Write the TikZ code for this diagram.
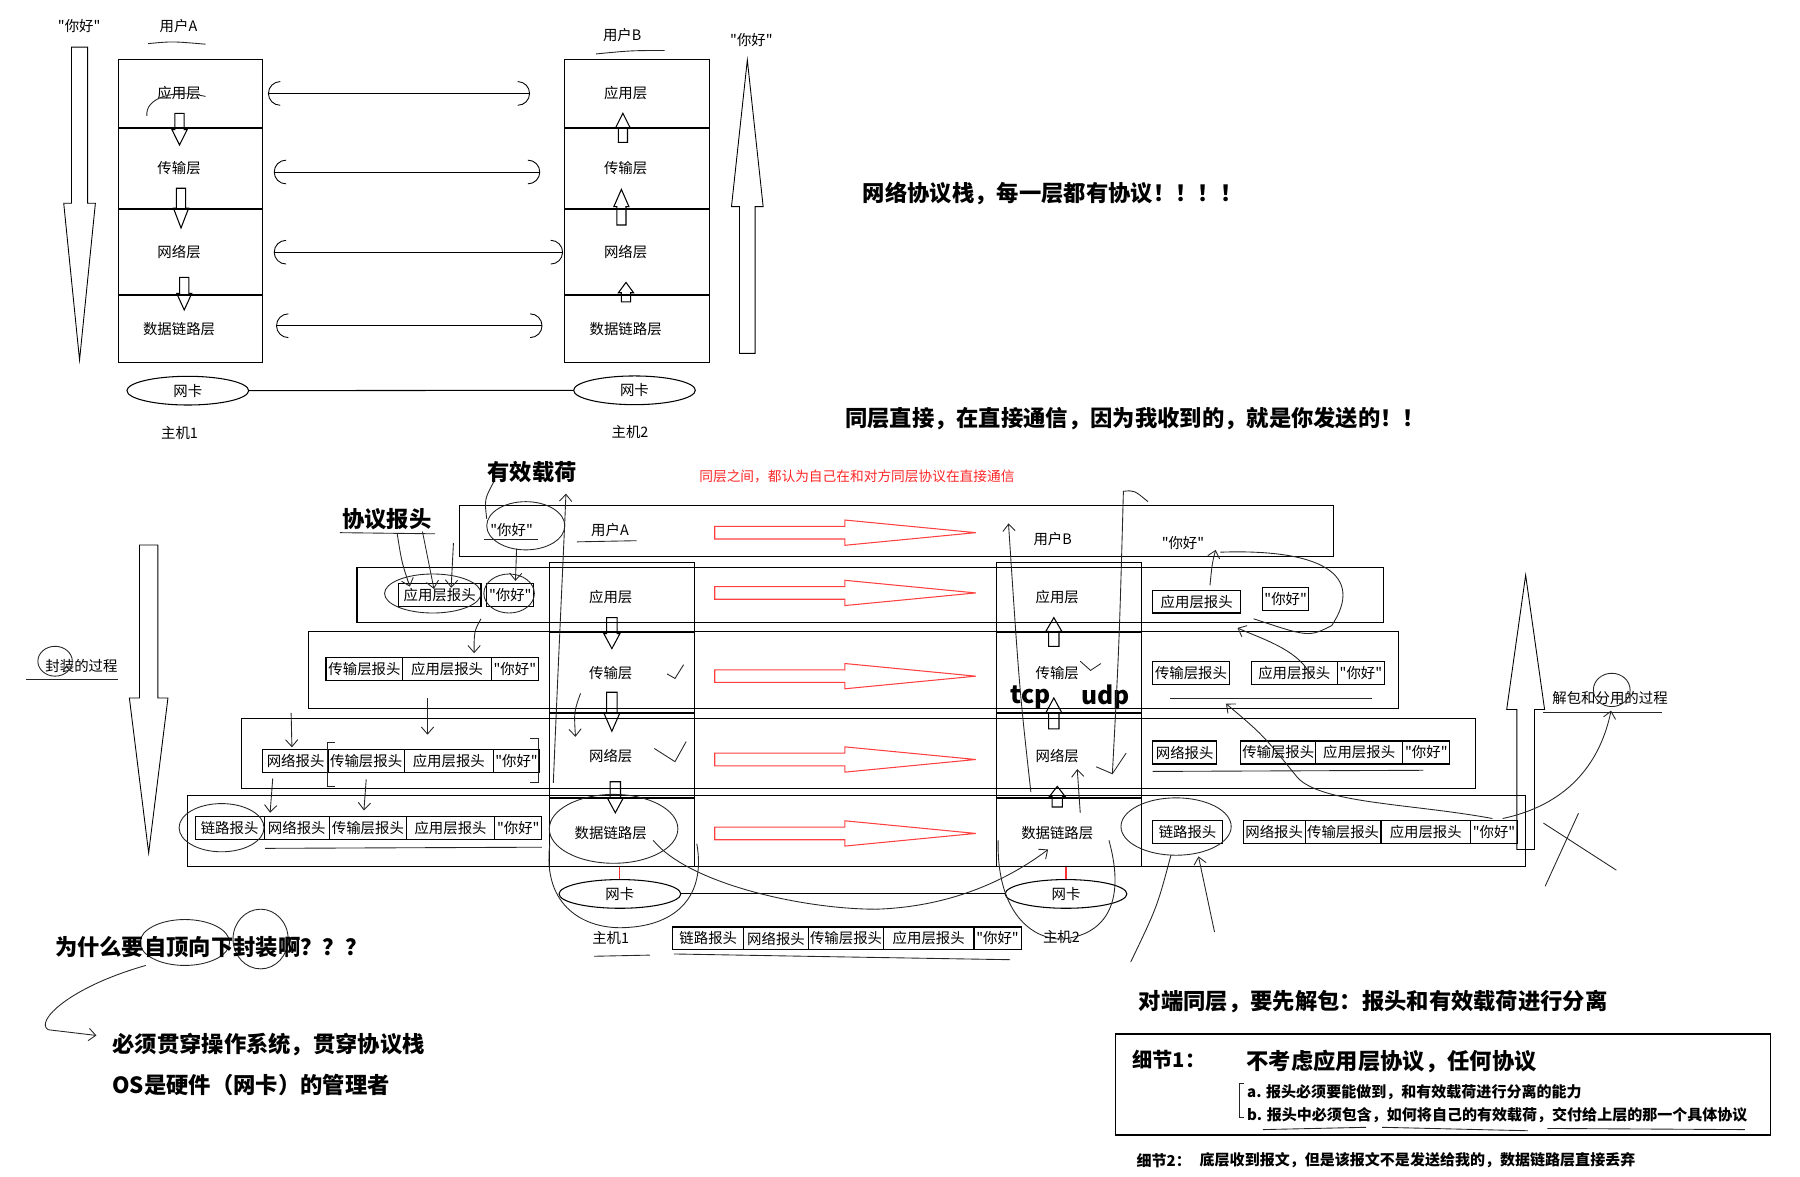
\documentclass[tikz,border=0pt]{standalone}
\usepackage{fontspec}
\setmainfont{Noto Sans CJK SC}[Ligatures=TeXOff]
\usetikzlibrary{arrows.meta, shapes.geometric, positioning}

\newcommand{\unitpx}{0.02296cm}
% vertical block arrow: [style]{x}{y start}{y head}{y tip}{shaft half}{head half}
\newcommand{\blockv}[7][]{\draw[#1] (#2-#6,#3) -- (#2+#6,#3) -- (#2+#6,#4) -- (#2+#7,#4) -- (#2,#5) -- (#2-#7,#4) -- (#2-#6,#4) -- cycle;}
% horizontal block arrow: [style]{y}{x start}{x head}{x tip}{shaft half}{head half}
\newcommand{\blockh}[7][]{\draw[#1] (#3,#2-#6) -- (#4,#2-#6) -- (#4,#2-#7) -- (#5,#2) -- (#4,#2+#7) -- (#4,#2+#6) -- (#3,#2+#6) -- cycle;}

\begin{document}
\begin{tikzpicture}[
    x=\unitpx, y=-\unitpx,
    line width=0.6pt,
    lbl/.style={font=\fontsize{8.2}{10}\selectfont, inner sep=0pt},
    layer/.style={draw, minimum width=126*\unitpx, inner sep=0pt, label={[lbl, xshift={-10*\unitpx}]center:#1}},
    pkt/.style={draw, inner sep=0pt, minimum height=20*\unitpx, font=\fontsize{8.2}{10}\selectfont},
    nic/.style={draw, ellipse, inner sep=0pt, minimum width=106*\unitpx, minimum height=25*\unitpx, font=\fontsize{8.2}{10}\selectfont},
    head/.style={font=\bfseries\fontsize{12.7}{15}\selectfont, inner sep=0pt},
    note/.style={font=\bfseries\fontsize{8.55}{11}\selectfont, inner sep=0pt, anchor=west},
    sketch/.style={line width=0.5pt, black!85},
    sketchtip/.style={sketch, -{Straight Barb[length=4pt, width=7pt]}},
    ring/.style={draw, ellipse, inner sep=0pt, sketch},
    peer/.style={line width=0.5pt, {Arc Barb[length=7pt, width=14pt]}-{Arc Barb[length=7pt, width=14pt]}},
    bigarrow/.style={line width=0.5pt},
    redarrow/.style={draw=red!75, line width=0.6pt}
]
\useasboundingbox (0,0) rectangle (1568,1025);

% ---------- top: two protocol stacks ----------
\node[lbl] (helloA) at (69,23) {"你好"};
\node[lbl] (userA) at (155.5,22.6) {用户A};
\node[lbl] (userB) at (542,30.5) {用户B};
\node[lbl] (helloB) at (654.6,34.8) {"你好"};
\draw[sketch] (129,38) .. controls (150,36) .. (179,38.5);
\draw[sketch] (519,47) .. controls (550,44) .. (579,44);

\node[layer=应用层, minimum height=59.3*\unitpx] (appA) at (166,81.4) {};
\node[layer=传输层, minimum height=69.6*\unitpx, below=0pt of appA] (transA) {};
\node[layer=网络层, minimum height=74.4*\unitpx, below=0pt of transA] (netA) {};
\node[layer=数据链路层, minimum height=58*\unitpx, below=0pt of netA] (linkA) {};

\node[layer=应用层, minimum height=59.3*\unitpx] (appB) at (555,81.4) {};
\node[layer=传输层, minimum height=69.6*\unitpx, below=0pt of appB] (transB) {};
\node[layer=网络层, minimum height=74.4*\unitpx, below=0pt of transB] (netB) {};
\node[layer=数据链路层, minimum height=58*\unitpx, below=0pt of netB] (linkB) {};

\draw[sketch] (128,101) .. controls (126,86) and (150,77) .. (179,84);

\blockv[bigarrow]{69.3}{41}{177}{313.6}{7}{13.8}
\blockv[bigarrow]{651}{307.8}{180}{52.3}{6.8}{13.8}
\blockv{156.4}{98.7}{113}{126.3}{4}{6.6}
\blockv{157.7}{164}{181.4}{198.6}{4}{6.6}
\blockv{160.5}{241.6}{255.5}{270}{4}{6.6}
\blockv{542.6}{124}{111.8}{98.7}{4}{6.6}
\blockv{541.3}{196}{180}{165}{4}{6.6}
\blockv{545.3}{263}{255}{246}{4}{6.6}

\draw[peer, shorten <=2.6pt, shorten >=19.5pt] (appA.east) -- (appB.west);
\draw[peer, shorten <=5.9pt, shorten >=13.7pt] ([yshift=-2pt]transA.east) -- ([yshift=-2pt]transB.west);
\draw[peer, shorten <=5.9pt, shorten >=0.7pt] (netA.east) -- (netB.west);
\draw[peer, shorten <=7.2pt, shorten >=12.4pt] ([yshift=2pt]linkA.east) -- ([yshift=2pt]linkB.west);

\node[nic] (nicA) at (163.6,340.3) {网卡};
\node[nic] (nicB) at (552.7,340) {网卡};
\draw (nicA) -- (nicB);
\node[lbl] (hostA) at (156.4,377.4) {主机1};
\node[lbl] (hostB) at (548.8,376.4) {主机2};

\node[head, anchor=west] (stackNote) at (751.3,168.4) {网络协议栈，每一层都有协议！！！！};
\node[head, anchor=west] (peerNote) at (735.7,364.4) {同层直接，在直接通信，因为我收到的，就是你发送的！！};

% ---------- bottom: encapsulation and decapsulation ----------
\node[head] (payload) at (463.5,411) {有效载荷};
\node[head] (protoHdr) at (337,452.4) {协议报头};
\node[font=\fontsize{7.8}{9}\selectfont, text=red!85, inner sep=0pt] (peerRed) at (746.5,415.2) {同层之间，都认为自己在和对方同层协议在直接通信};

\draw (400.5,440) rectangle (1162,485);
\draw (311,494) rectangle (1205,542);
\draw (269,550) rectangle (1218,617);
\draw (210,626) rectangle (1285,687);
\draw (163.5,693) rectangle (1329,755);

\node[lbl] (rowHelloA) at (445.7,461.7) {"你好"};
\node[lbl] (rowUserA) at (531.4,461.7) {用户A};
\node[lbl] (rowUserB) at (917,469.5) {用户B};
\node[lbl] (rowHelloB) at (1030.5,473.3) {"你好"};

\node[layer=应用层, minimum height=60*\unitpx] (appH1) at (542,520) {};
\node[layer=传输层, minimum height=70*\unitpx, below=0pt of appH1] (transH1) {};
\node[layer=网络层, minimum height=73*\unitpx, below=0pt of transH1] (netH1) {};
\node[layer=数据链路层, minimum height=59*\unitpx, below=0pt of netH1] (linkH1) {};

\node[layer=应用层, minimum height=60*\unitpx] (appH2) at (931,520) {};
\node[layer=传输层, minimum height=70*\unitpx, below=0pt of appH2] (transH2) {};
\node[layer=网络层, minimum height=73*\unitpx, below=0pt of transH2] (netH2) {};
\node[layer=数据链路层, minimum height=59*\unitpx, below=0pt of netH2] (linkH2) {};

\node[font=\bfseries\fontsize{14}{16}\selectfont, inner sep=0pt] (tcpLbl) at (897.7,607.4) {tcp};
\node[font=\bfseries\fontsize{14}{16}\selectfont, inner sep=0pt] (udpLbl) at (963,607.4) {udp};

\blockv{533}{538}{552}{565}{4.5}{7}
\blockv{533}{603}{621}{637}{4.5}{7}
\blockv{536}{681}{695}{708}{4.5}{7}
\blockv{918}{563}{550}{538}{4.5}{7}
\blockv{918}{635}{621}{608}{4.5}{7}
\blockv{921}{703}{694}{685}{4.5}{7}

\foreach \yy in {464,516.5,589,661.6,726} {\blockh[redarrow]{\yy}{622.6}{736}{850}{5.5}{11}}

% sender side packets
\node[pkt, minimum width=72*\unitpx] (l1app) at (383,518) {应用层报头};
\node[pkt, minimum width=41*\unitpx] (l1data) at (444.5,518) {"你好"};
\node[pkt, minimum width=67*\unitpx] (l2trans) at (317.5,582.5) {传输层报头};
\node[pkt, minimum width=77*\unitpx] (l2app) at (389.5,582.5) {应用层报头};
\node[pkt, minimum width=41*\unitpx] (l2data) at (448.5,582.5) {"你好"};
\node[pkt, minimum width=57*\unitpx] (l3net) at (257.5,663) {网络报头};
\node[pkt, minimum width=66*\unitpx] (l3trans) at (319,663) {传输层报头};
\node[pkt, minimum width=78*\unitpx] (l3app) at (391,663) {应用层报头};
\node[pkt, minimum width=40*\unitpx] (l3data) at (450,663) {"你好"};
\node[pkt, minimum width=60*\unitpx] (l4link) at (200,721) {链路报头};
\node[pkt, minimum width=57*\unitpx] (l4net) at (258.5,721) {网络报头};
\node[pkt, minimum width=67*\unitpx] (l4trans) at (320.5,721) {传输层报头};
\node[pkt, minimum width=77*\unitpx] (l4app) at (392.5,721) {应用层报头};
\node[pkt, minimum width=41*\unitpx] (l4data) at (451.5,721) {"你好"};

% receiver side packets
\node[pkt, minimum width=77*\unitpx] (r1app) at (1042.5,524) {应用层报头};
\node[pkt, minimum width=40*\unitpx] (r1data) at (1120,522) {"你好"};
\node[pkt, minimum width=67*\unitpx] (r2trans) at (1037.5,586.5) {传输层报头};
\node[pkt, minimum width=75*\unitpx] (r2app) at (1127.5,586.5) {应用层报头};
\node[pkt, minimum width=41*\unitpx] (r2data) at (1185.5,586.5) {"你好"};
\node[pkt, minimum width=56*\unitpx] (r3net) at (1032,655.5) {网络报头};
\node[pkt, minimum width=65*\unitpx] (r3trans) at (1113.5,655.5) {传输层报头};
\node[pkt, minimum width=76*\unitpx] (r3app) at (1184,655.5) {应用层报头};
\node[pkt, minimum width=41*\unitpx] (r3data) at (1242.5,655.5) {"你好"};
\node[pkt, minimum width=61*\unitpx] (r4link) at (1034.5,724.5) {链路报头};
\node[pkt, minimum width=54*\unitpx] (r4net) at (1110,724.5) {网络报头};
\node[pkt, minimum width=66*\unitpx] (r4trans) at (1170,724.5) {传输层报头};
\node[pkt, minimum width=78*\unitpx] (r4app) at (1242,724.5) {应用层报头};
\node[pkt, minimum width=41*\unitpx] (r4data) at (1301.5,724.5) {"你好"};

% network cards and the wire
\node[nic] (nicH1) at (540,778.7) {网卡};
\node[nic] (nicH2) at (928.6,778.7) {网卡};
\draw[red!80] (nicH1.north |- linkH1.south) -- (nicH1.north);
\draw[red!80] (nicH2.north |- linkH2.south) -- (nicH2.north);
\draw (nicH1) -- (nicH2);
\node[lbl] (hostH1) at (532,817) {主机1};
\node[lbl] (hostH2) at (924.6,816) {主机2};

\node[pkt, minimum width=62*\unitpx] (wLink) at (617,817.5) {链路报头};
\node[pkt, minimum width=56*\unitpx] (wNet) at (676,817.5) {网络报头};
\node[pkt, minimum width=66*\unitpx] (wTrans) at (737,817.5) {传输层报头};
\node[pkt, minimum width=78*\unitpx] (wApp) at (809,817.5) {应用层报头};
\node[pkt, minimum width=41*\unitpx] (wData) at (869,817.5) {"你好"};

% the two process arrows
\blockv[bigarrow]{129.5}{474.7}{608}{743}{8}{16.8}
\blockv[bigarrow]{1329}{740}{618}{501}{7.7}{16.5}
\node[lbl] (encapLbl) at (71,580) {封装的过程};
\node[lbl] (decapLbl) at (1402.5,608.3) {解包和分用的过程};
\draw[sketch] (23,592) -- (103,592);
\draw[sketch] (1344.5,621) -- (1448,621);

% hand drawn marks
\node[ring, minimum width=68*\unitpx, minimum height=42*\unitpx] (ringHello) at (458,458) {};
\node[ring, minimum width=84*\unitpx, minimum height=34*\unitpx] (ringApp) at (377,517) {};
\node[ring, minimum width=44*\unitpx, minimum height=34*\unitpx] (ringData) at (443.5,517) {};
\node[ring, minimum width=74*\unitpx, minimum height=42*\unitpx] (ringLinkL) at (193,721) {};
\node[ring, minimum width=96*\unitpx, minimum height=50*\unitpx] (ringLinkR) at (1024.5,720) {};
\node[ring, minimum width=112*\unitpx, minimum height=60*\unitpx] (ringLinkH1) at (534.5,722) {};
\node[ring, minimum width=30*\unitpx, minimum height=26*\unitpx] (ringEncap) at (48,576) {};
\node[ring, minimum width=32*\unitpx, minimum height=29*\unitpx] (ringSplit) at (1404,601) {};
\node[ring, minimum width=78*\unitpx, minimum height=40*\unitpx] (ringTop) at (161,821) {};
\node[ring, minimum width=48*\unitpx, minimum height=52*\unitpx] (ringPack) at (227,818) {};

\draw[sketch] (296,464) -- (379,465);
\draw[sketchtip] (346,465) .. controls (350,490) .. (357,511);
\draw[sketchtip] (368,463) -- (378,513);
\draw[sketchtip] (395,473) -- (393,512);
\draw[sketch] (430,420) .. controls (422,435) .. (424,452);
\draw[sketchtip] (482,682) .. controls (487,560) and (491,480) .. (493,430);
\draw[sketchtip] (450,478) -- (449,506);
\draw[sketch] (422,469.6) -- (469,469.6);
\draw[sketch] (502.6,472) -- (554.6,471);
\draw[sketchtip] (419,539) .. controls (413,550) .. (413,569);
\draw[sketchtip] (372.4,608) -- (372.4,640);
\draw[sketchtip] (319,679) -- (317,706);
\draw[sketchtip] (253.6,621) -- (254.3,651);
\draw[sketchtip] (237.6,678) -- (235.3,708);
\draw[sketchtip] (505.7,604) .. controls (500,620) .. (501.3,641.8);
\draw[sketch] (292,647) -- (285,647) -- (285,685) -- (292,685);
\draw[sketch] (462,643) -- (469,643) -- (469,682) -- (462,682);
\draw[sketch] (231,739) -- (472,738);
\draw[sketch] (581,587) -- (588,591) -- (595.5,579);
\draw[sketch] (570,652) -- (588,663.5) -- (597.7,646);
\draw[sketch] (479,735) .. controls (472,790) and (510,810) .. (545,808) .. controls (590,806) and (615,780) .. (607,735);
\draw[sketchtip] (569,732) .. controls (600,770) and (700,792) .. (763,792) .. controls (830,790) and (880,765) .. (913,740);
\draw[sketch] (869.5,732) .. controls (868,790) and (895,818) .. (925,818) .. controls (960,815) and (982,790) .. (966,732);
\draw[sketch] (587,831) .. controls (700,833) .. (880,836);
\draw[sketch] (517.5,833) -- (566,832);
\draw[sketch] (1020,745) .. controls (1008,790) .. (985,838);
\draw[sketchtip] (1058,812) -- (1044,746);
\draw[sketch] (1300,713) .. controls (1230,700) and (1150,700) .. (1130,677);
\draw[sketchtip] (1130,677) .. controls (1100,640) .. (1068,613);
\draw[sketchtip] (1141,587) .. controls (1130,565) and (1095,555) .. (1078,547);
\draw[sketchtip] (1054,510) .. controls (1056,490) .. (1059,479);
\draw[sketch] (1063,481) .. controls (1150,478) and (1190,500) .. (1160,545) .. controls (1140,555) .. (1092,539);
\draw[sketch] (1019,608) -- (1195,608);
\draw[sketch] (1004,672) -- (1240,671);
\draw[sketchtip] (898,690) .. controls (888,600) .. (878.5,456);
\draw[sketch] (955,668) -- (969,674) -- (981,656);
\draw[sketch] (969,674) .. controls (975,560) .. (978.6,428) .. controls (988,427) .. (1000,437);
\draw[sketchtip] (941,708) -- (938.4,670);
\draw[sketch] (941,576) -- (950,584) -- (959,578);
\draw[sketchtip] (1309,713) .. controls (1370,700) and (1395,660) .. (1403.4,619);
\draw[sketch] (1344.5,717) -- (1408,758);
\draw[sketch] (1375,708.5) -- (1346,772);

% ---------- notes ----------
\node[head, anchor=west] (whyNote) at (47.5,824.6) {为什么要自顶向下封装啊？？？};
\node[head, anchor=west] (osNote1) at (97.5,910) {必须贯穿操作系统，贯穿协议栈};
\node[head, anchor=west] (osNote2) at (97.5,945) {OS是硬件（网卡）的管理者};
\draw[sketchtip] (127,841) .. controls (60,860) and (30,890) .. (42,897) -- (84,902);

\node[head, anchor=west] (splitNote) at (991.7,872.5) {对端同层，要先解包：报头和有效载荷进行分离};
\draw (972,900.7) rectangle (1542,988.7);
\node[font=\bfseries\fontsize{11.5}{14}\selectfont, inner sep=0pt, anchor=west] (detail1) at (986,923) {细节1：};
\node[head, anchor=west] (detail1Text) at (1085.5,924.8) {不考虑应用层协议，任何协议};
\node[note] (detailA) at (1086,951) {a. 报头必须要能做到，和有效载荷进行分离的能力};
\node[note] (detailB) at (1086,971.8) {b. 报头中必须包含，如何将自己的有效载荷，交付给上层的那一个具体协议};
\draw[sketch] (1084,944) -- (1080,944) -- (1080,973) -- (1084,973);
\draw[sketch] (1100,984) -- (1190,982);
\draw[sketch] (1204,982) -- (1331,985);
\draw[sketch] (1348,983) -- (1520,984);
\node[note] (detail2) at (989.6,1011) {细节2：};
\node[note] (detail2Text) at (1044.6,1011) {底层收到报文，但是该报文不是发送给我的，数据链路层直接丢弃};
\end{tikzpicture}
\end{document}
